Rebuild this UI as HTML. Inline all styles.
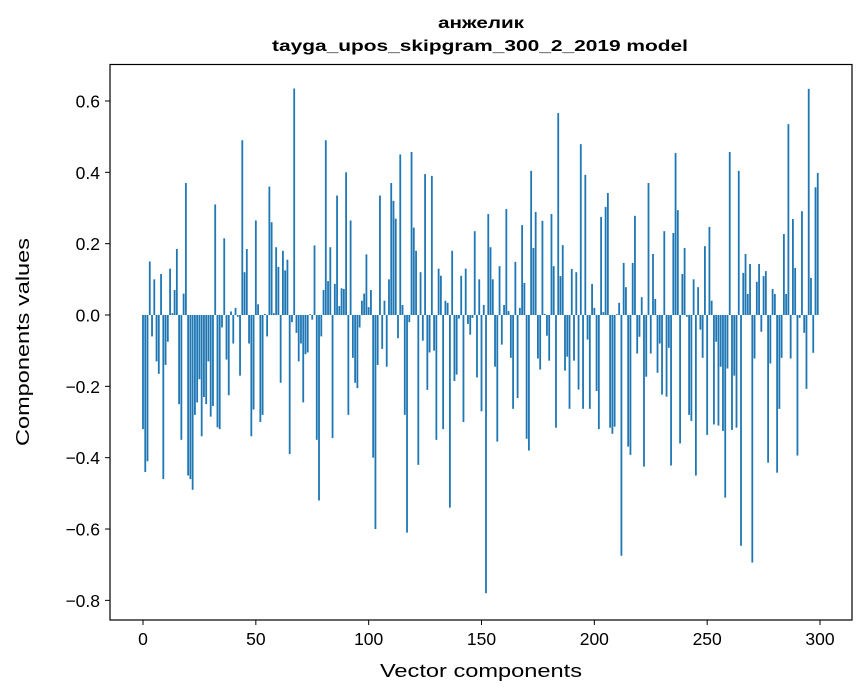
<!DOCTYPE html>
<html><head><meta charset="utf-8"><style>
html,body{margin:0;padding:0;background:#fff;}
svg{display:block;font-family:"Liberation Sans","DejaVu Sans",sans-serif;}
</style></head><body>
<svg id="chart" width="867" height="696">
<text x="481" y="28" text-anchor="middle" font-size="16" font-weight="bold" textLength="86" lengthAdjust="spacingAndGlyphs">анжелик</text>
<text x="480" y="51" text-anchor="middle" font-size="16" font-weight="bold" textLength="416" lengthAdjust="spacingAndGlyphs">tayga_upos_skipgram_300_2_2019 model</text>
<g id="bars"></g>
<rect x="110" y="64.5" width="742" height="555.5" fill="none" stroke="#000" stroke-width="1.2"/>
<g id="xticks"></g>
<g id="yticks"></g>
<text x="481" y="677" text-anchor="middle" font-size="18" textLength="202" lengthAdjust="spacingAndGlyphs">Vector components</text>
<text transform="translate(29,342) rotate(-90)" text-anchor="middle" font-size="18" textLength="208" lengthAdjust="spacingAndGlyphs">Components values</text>
</svg>
<script>
const values = [-0.32,-0.44,-0.41,0.15,-0.06,0.10,-0.13,-0.165,0.115,-0.46,-0.14,-0.075,0.13,0.005,0.07,0.185,-0.25,-0.35,0.06,0.37,
-0.45,-0.46,-0.49,-0.28,-0.245,-0.18,-0.34,-0.23,-0.25,-0.13,-0.285,-0.255,0.31,-0.315,-0.32,-0.035,0.215,-0.125,-0.225,0.01,
-0.08,0.02,-0.005,-0.17,0.49,0.12,0.185,-0.08,-0.34,-0.265,0.265,0.03,-0.30,-0.28,0.003,-0.06,0.36,0.26,0.005,0.19,
0.135,-0.19,0.18,0.125,0.155,-0.39,-0.02,0.635,-0.05,-0.13,-0.08,-0.245,-0.11,-0.105,0.002,-0.013,0.195,-0.35,-0.52,-0.06,
0.07,0.49,0.095,0.19,-0.345,0.087,0.335,0.025,0.075,0.073,0.40,-0.28,0.265,-0.12,-0.19,-0.205,-0.035,0.04,0.06,0.17,
0.022,0.07,-0.40,-0.60,-0.14,0.335,-0.095,0.04,-0.145,0.10,0.37,0.32,0.27,-0.065,0.45,0.028,-0.28,-0.61,-0.02,0.457,
0.245,0.18,-0.42,0.12,-0.072,0.395,-0.21,-0.105,0.39,-0.10,-0.35,0.13,0.11,-0.32,0.04,0.034,-0.54,0.18,-0.185,-0.167,
-0.01,0.11,-0.30,0.13,-0.025,-0.055,-0.008,0.235,-0.175,0.10,-0.27,0.028,-0.78,0.283,0.19,0.10,-0.145,-0.355,0.137,-0.083,
0.028,0.297,0.011,-0.12,-0.263,0.149,-0.233,0.02,0.252,0.09,-0.347,-0.38,0.404,0.188,0.289,-0.122,-0.153,0.264,0.003,-0.058,
-0.128,0.283,0.137,-0.316,0.566,0.109,0.196,-0.156,-0.117,-0.263,0.129,-0.128,0.12,-0.209,0.479,-0.263,0.393,-0.069,-0.263,0.087,
0.02,-0.213,-0.32,0.275,0.008,0.303,0.342,-0.316,-0.333,-0.313,0.002,0.034,-0.675,0.146,0.078,-0.369,-0.392,0.146,0.278,-0.108,
-0.061,0.05,-0.425,-0.173,0.37,-0.108,0.171,0.045,-0.162,-0.08,-0.223,0.235,-0.229,-0.092,-0.422,0.23,0.454,0.294,-0.36,0.115,
0.188,-0.005,-0.28,-0.297,0.10,-0.45,0.078,-0.041,-0.12,0.193,-0.336,0.247,0.04,-0.307,-0.075,-0.31,-0.145,-0.325,-0.512,-0.15,
0.457,-0.322,-0.17,-0.316,0.404,-0.647,0.118,0.171,0.059,0.143,-0.694,-0.122,0.093,0.143,-0.047,0.109,0.123,-0.414,-0.136,0.073,
0.059,-0.442,-0.263,-0.12,0.227,0.059,0.535,-0.122,0.269,0.132,-0.394,-0.008,0.291,-0.05,-0.207,0.634,0.104,-0.106,0.358,0.398];
const xTickLabels = ["0","50","100","150","200","250","300"];
const xTickValues = [0,50,100,150,200,250,300];
const yTickValues = [-0.8,-0.6,-0.4,-0.2,0.0,0.2,0.4,0.6];
const yTickLabels = ["\u22120.8","\u22120.6","\u22120.4","\u22120.2","0.0","0.2","0.4","0.6"];

const NS="http://www.w3.org/2000/svg";
function xScale(v){return 143 + v*(677/300);}
function yScale(v){return 315 - v*356.7;}
const bw = 0.8*(677/300);
const gb = document.getElementById('bars');
values.forEach(function(v,i){
  const r=document.createElementNS(NS,'rect');
  const y0=yScale(0), y1=yScale(v);
  r.setAttribute('x', xScale(i)-bw/2);
  r.setAttribute('y', Math.min(y0,y1));
  r.setAttribute('width', bw);
  r.setAttribute('height', Math.max(Math.abs(y1-y0),0.3));
  r.setAttribute('fill','#1f77b4');
  
  
  gb.appendChild(r);
});
const gx=document.getElementById('xticks');
xTickValues.forEach(function(v,i){
  const x=xScale(v);
  const l=document.createElementNS(NS,'line');
  l.setAttribute('x1',x);l.setAttribute('x2',x);l.setAttribute('y1',620);l.setAttribute('y2',625);
  l.setAttribute('stroke','#000');l.setAttribute('stroke-width','1');
  
  
  gx.appendChild(l);
  const t=document.createElementNS(NS,'text');
  t.setAttribute('x',x);t.setAttribute('y',645);t.setAttribute('text-anchor','middle');t.setAttribute('font-size','17.5');
  t.textContent=xTickLabels[i];
  
  
  gx.appendChild(t);
});
const gy=document.getElementById('yticks');
yTickValues.forEach(function(v,i){
  const y=yScale(v);
  const l=document.createElementNS(NS,'line');
  l.setAttribute('x1',105);l.setAttribute('x2',110);l.setAttribute('y1',y);l.setAttribute('y2',y);
  l.setAttribute('stroke','#000');l.setAttribute('stroke-width','1');
  
  
  gy.appendChild(l);
  const t=document.createElementNS(NS,'text');
  t.setAttribute('x',100);t.setAttribute('y',y+6.5);t.setAttribute('text-anchor','end');t.setAttribute('font-size','17.5');
  t.textContent=yTickLabels[i];
  
  
  gy.appendChild(t);
});
</script>
</body></html>
